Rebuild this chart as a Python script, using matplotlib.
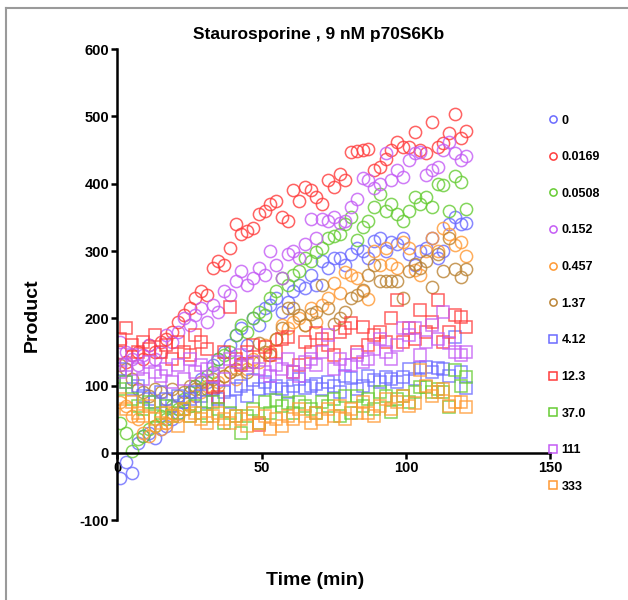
"""
Staurosporine inhibition time course, 9 nM p70S6Kb
Scatter of product vs time for each inhibitor concentration
"""
import matplotlib
matplotlib.use('Agg')

import matplotlib.pyplot as plt
from matplotlib.lines import Line2D

plt.rcParams['font.family'] = ['Liberation Sans', 'DejaVu Sans']
plt.rcParams['font.weight'] = 'bold'
plt.rcParams['axes.unicode_minus'] = False

TIME = list(range(1, 122, 2))

CONC_0 = [-38, -13, -30, 15, 25, 30, 22, 35, 40, 50, 60, 75, 90, 100, 110, 105,
          130, 140, 150, 160, 175, 185, 160, 200, 190, 215, 220, 230, 210, 225,
          240, 250, 245, 265, 250, 285, 275, 290, 290, 280, 295, 305, 300, 290,
          315, 320, 300, 313, 310, 320, 295, 280, 300, 305, 320, 290, 300, 340,
          350, 340, 341]
CONC_0169 = [150, 135, 145, 150, 140, 160, 150, 165, 170, 180, 195, 205, 215,
             230, 240, 235, 275, 285, 280, 305, 340, 325, 330, 335, 355, 360,
             370, 375, 350, 345, 390, 375, 395, 390, 380, 370, 405, 395, 415,
             405, 447, 448, 450, 452, 420, 425, 437, 450, 462, 455, 455, 477,
             450, 445, 492, 455, 460, 475, 504, 468, 479]
CONC_0508 = [45, 30, 3, 20, 25, 35, 40, 55, 50, 70, 65, 80, 90, 100, 95, 115,
             120, 140, 145, 150, 175, 190, 180, 200, 210, 205, 230, 240, 260,
             250, 265, 270, 290, 285, 299, 304, 320, 323, 325, 340, 350, 316,
             336, 345, 365, 385, 360, 370, 355, 345, 360, 380, 370, 380, 365,
             400, 398, 360, 412, 403, 362]
CONC_152 = [165, 150, 140, 130, 145, 160, 140, 150, 175, 165, 180, 200, 190,
            205, 215, 195, 220, 210, 240, 235, 255, 270, 250, 260, 275, 265,
            300, 280, 260, 295, 300, 290, 310, 348, 320, 348, 345, 350, 341,
            345, 365, 378, 408, 405, 393, 400, 445, 405, 420, 410, 435, 445,
            447, 413, 420, 425, 450, 462, 445, 435, 442]
CONC_457 = [75, 70, 55, 50, 30, 25, 40, 35, 45, 60, 55, 65, 70, 85, 90, 100,
            95, 105, 115, 120, 110, 130, 125, 140, 135, 160, 150, 170, 190, 185,
            195, 200, 190, 215, 195, 220, 230, 252, 237, 269, 264, 260, 240,
            229, 300, 280, 304, 281, 275, 313, 305, 272, 265, 300, 319, 300,
            334, 325, 309, 313, 293]
CONC_137 = [130, 125, 110, 95, 90, 85, 95, 90, 80, 95, 85, 90, 100, 95, 105,
            95, 110, 100, 115, 120, 125, 133, 120, 135, 163, 150, 145, 170, 185,
            215, 216, 205, 190, 207, 210, 249, 215, 192, 200, 210, 230, 234,
            242, 264, 279, 255, 255, 255, 255, 230, 270, 281, 275, 285, 247,
            296, 271, 320, 274, 261, 274]
CONC_412 = [125, 105, 95, 100, 85, 80, 75, 90, 80, 70, 85, 75, 80, 90, 85, 75,
            95, 80, 90, 75, 95, 100, 85, 108, 95, 105, 96, 100, 95, 90, 100,
            110, 96, 100, 103, 95, 105, 100, 90, 115, 111, 95, 100, 115, 108,
            105, 113, 110, 105, 113, 125, 110, 126, 128, 120, 126, 125, 115,
            172, 120, 96]
CONC_123 = [170, 185, 160, 150, 165, 155, 175, 150, 160, 140, 165, 150, 145,
            175, 165, 155, 98, 83, 150, 217, 140, 130, 150, 160, 41, 158, 145,
            150, 170, 172, 120, 130, 165, 150, 178, 170, 160, 145, 180, 185,
            193, 150, 187, 160, 175, 180, 165, 200, 227, 165, 185, 170, 212,
            180, 195, 227, 165, 180, 205, 202, 187]
CONC_370 = [95, 105, 80, 70, 65, 75, 55, 60, 70, 55, 60, 65, 55, 70, 60, 55,
            75, 65, 45, 60, 55, 30, 55, 65, 45, 75, 60, 78, 70, 74, 60, 75, 70,
            65, 60, 75, 70, 80, 55, 85, 60, 85, 70, 80, 65, 90, 85, 61, 80, 85,
            75, 90, 98, 98, 91, 95, 90, 68, 123, 100, 113]
CONC_111 = [120, 130, 145, 125, 110, 135, 120, 115, 125, 105, 130, 110, 140,
            120, 130, 125, 115, 135, 110, 140, 135, 145, 130, 135, 125, 120,
            115, 130, 125, 140, 120, 115, 135, 140, 130, 150, 175, 125, 140,
            130, 130, 145, 135, 140, 155, 170, 150, 140, 160, 185, 175, 185,
            145, 165, 190, 170, 210, 163, 150, 145, 150]
CONC_333 = [80, 65, 75, 60, 55, 70, 50, 45, 60, 55, 40, 65, 55, 60, 50, 45,
            55, 60, 50, 45, 55, 50, 40, 60, 45, 55, 35, 50, 40, 55, 50, 65, 55,
            45, 60, 50, 65, 55, 70, 50, 65, 60, 75, 60, 55, 70, 80, 65, 75, 85,
            70, 74, 123, 100, 85, 90, 95, 70, 76, 75, 68]

LABELS = ["0", "0.0169", "0.0508", "0.152", "0.457", "1.37",
          "4.12", "12.3", "37.0", "111", "333"]
SERIES = [CONC_0, CONC_0169, CONC_0508, CONC_152, CONC_457, CONC_137,
          CONC_412, CONC_123, CONC_370, CONC_111, CONC_333]

COLORS = ["#6b6bff", "#ff3c3c", "#66cc33", "#c45cf5", "#ff9933", "#bb8435",
          "#6b6bff", "#ff3c3c", "#66cc33", "#c45cf5", "#ff9933"]
MARKERS = ["o"] * 6 + ["s"] * 5

fig = plt.figure(figsize=(6.28, 6.0), dpi=100)
ax = fig.add_axes([0.187, 0.133, 0.689, 0.785])

for vals, color, marker, label in zip(SERIES, COLORS, MARKERS, LABELS):
    ax.plot(TIME, vals, linestyle="none", marker=marker, markersize=8.8,
            markerfacecolor="none", markeredgecolor=color,
            markeredgewidth=1.1, alpha=0.8, label=label)

ax.set_xlim(0, 150)
ax.set_ylim(-100, 600)
ax.set_xticks([0, 50, 100, 150])
ax.set_yticks(range(-100, 601, 100))

ax.spines["top"].set_visible(False)
ax.spines["right"].set_visible(False)
ax.spines["bottom"].set_position(("data", 0))
ax.spines["left"].set_linewidth(1.8)
ax.spines["bottom"].set_linewidth(1.8)
ax.tick_params(direction="out", length=4, width=1.8, labelsize=10.5, pad=2)
for lbl in ax.get_xticklabels() + ax.get_yticklabels():
    lbl.set_fontweight("bold")

fig.text(0.507, 0.942, "Staurosporine , 9 nM p70S6Kb", ha="center",
         va="center", fontsize=12.5, fontweight="bold")
fig.text(0.052, 0.475, "Product", rotation=90, ha="center", va="center",
         fontsize=14, fontweight="bold")
fig.text(0.502, 0.033, "Time (min)", ha="center", va="center",
         fontsize=14, fontweight="bold")

handles = [Line2D([], [], linestyle="none", marker=m, markersize=5.2,
                  markerfacecolor="none", markeredgecolor=c, markeredgewidth=1.1)
           for m, c in zip(MARKERS, COLORS)]
leg = fig.legend(handles, LABELS, loc="upper left",
                 bbox_to_anchor=(0.873, 0.809), frameon=False,
                 fontsize=9, labelspacing=1.97, handlelength=0.8,
                 handletextpad=0.25, borderpad=0, borderaxespad=0)
for t in leg.get_texts():
    t.set_fontweight("bold")

# outer chart-area border (top and left only are visible)
fig.add_artist(Line2D([6 / 628, 1.0], [1 - 8 / 600, 1 - 8 / 600],
                      transform=fig.transFigure, color="#9a9a9a", lw=1.5))
fig.add_artist(Line2D([6 / 628, 6 / 628], [0.0, 1 - 8 / 600],
                      transform=fig.transFigure, color="#9a9a9a", lw=1.5))

fig.savefig("out.png", dpi=100, facecolor="white")
plt.close(fig)
